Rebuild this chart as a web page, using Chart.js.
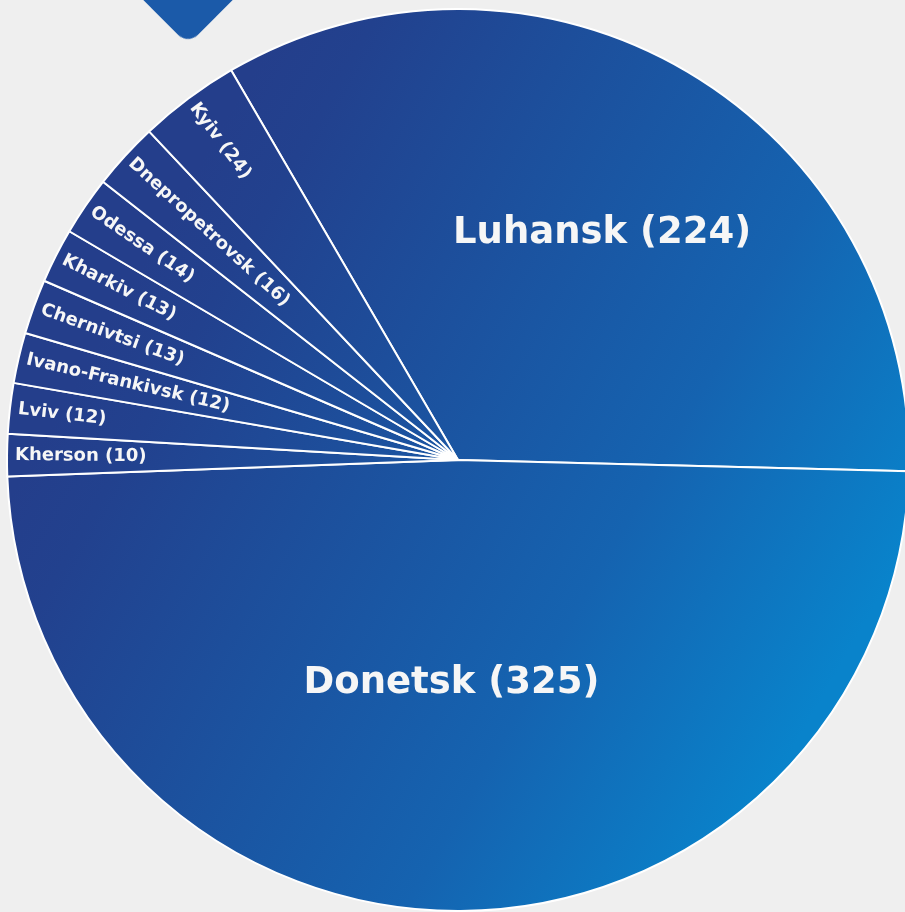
<!DOCTYPE html>
<html>
<head>
<meta charset="utf-8">
<script src="https://cdn.jsdelivr.net/npm/chart.js@4"></script>
<style>
	html, body { margin: 0; padding: 0; background: #efefef; overflow: hidden; width: 905px; height: 912px; }
	#badge {
		position: absolute; left: 138px; top: -76px; width: 100px; height: 100px;
		background: #1b5aa9; border-radius: 14px; transform: rotate(45deg);
	}
	#reactions { position: absolute; left: 0; top: 0; }
</style>
</head>
<body>
<div id="badge"></div>
<canvas id="regions" width="916" height="920"></canvas>
<script>
const labels = ['Luhansk', 'Donetsk', 'Kherson', 'Lviv', 'Ivano-Frankivsk', 'Chernivtsi', 'Kharkiv', 'Odessa', 'Dnepropetrovsk', 'Kyiv'];
const counts = [224, 325, 10, 12, 12, 13, 13, 14, 16, 24];

// big labels: [fraction of radius, angle shift in degrees]
const bigLabels = { 0: [0.577, 3.0], 1: [0.517, 1.95] };

let fill = null;
function sliceFill(ctx) {
	const chart = ctx.chart;
	if (!chart.chartArea) return '#1a52a0';
	if (!fill) {
		fill = chart.ctx.createLinearGradient(150, 250, 850, 650);
		fill.addColorStop(0, '#243e8b');
		fill.addColorStop(0.1, '#22418e');
		fill.addColorStop(0.68, '#1563b0');
		fill.addColorStop(1, '#0983cb');
	}
	return fill;
}

const sliceLabels = {
	id: 'sliceLabels',
	afterDatasetsDraw(chart) {
		const ctx = chart.ctx;
		const meta = chart.getDatasetMeta(0);
		ctx.save();
		ctx.fillStyle = '#f6f6f6';
		meta.data.forEach((arc, i) => {
			const p = arc.getProps(['x', 'y', 'startAngle', 'endAngle', 'outerRadius'], true);
			const mid = (p.startAngle + p.endAngle) / 2;
			const text = labels[i] + ' (' + counts[i] + ')';
			if (bigLabels[i]) {
				const a = mid + bigLabels[i][1] * Math.PI / 180;
				const d = p.outerRadius * bigLabels[i][0];
				ctx.font = 'bold 37px "DejaVu Sans"';
				ctx.textAlign = 'center';
				ctx.textBaseline = 'alphabetic';
				ctx.fillText(text, p.x + Math.cos(a) * d, p.y + Math.sin(a) * d);
			} else {
				const d = p.outerRadius - 8;
				ctx.save();
				ctx.translate(p.x + Math.cos(mid) * d, p.y + Math.sin(mid) * d);
				ctx.rotate(mid + Math.PI);
				ctx.font = 'bold 18px "DejaVu Sans"';
				ctx.textAlign = 'left';
				ctx.textBaseline = 'middle';
				ctx.fillText(text, 0, 0);
				ctx.restore();
			}
		});
		ctx.restore();
	}
};

const config_regions = {
	type: 'pie',
	data: {
		labels: labels,
		datasets: [{
			data: counts,
			backgroundColor: sliceFill,
			borderColor: '#ffffff',
			borderWidth: 2,
			radius: 451,
		}]
	},
	options: {
		responsive: false,
		animation: false,
		rotation: -30.2,
		plugins: {
			legend: { display: false },
			tooltip: { enabled: false },
		}
	},
	plugins: [sliceLabels],
};

const regions = new Chart(document.getElementById('regions'), config_regions);
</script>
</body>
</html>
